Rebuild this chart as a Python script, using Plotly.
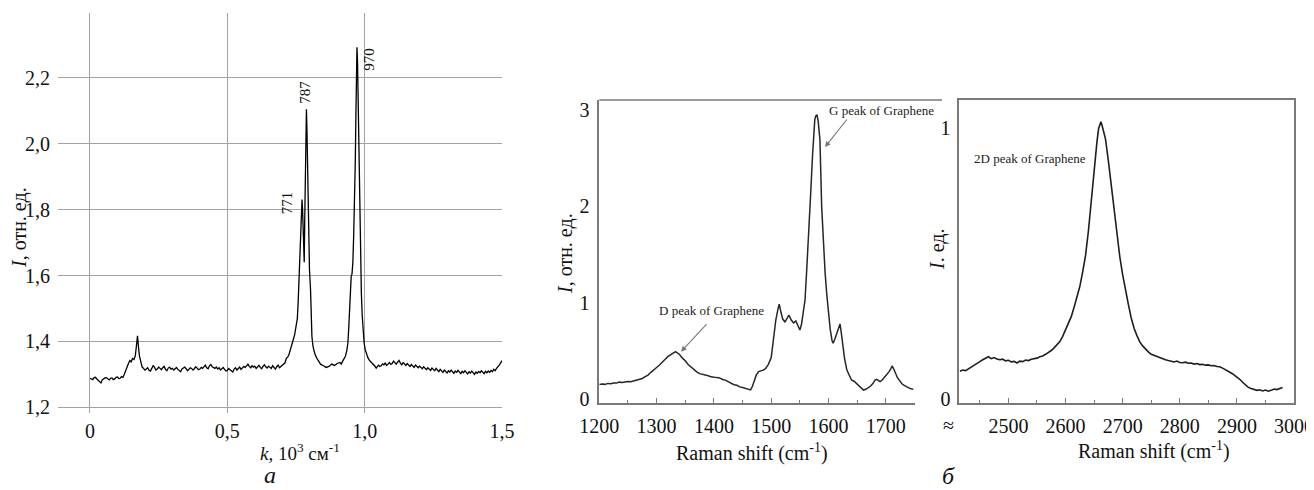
import plotly.graph_objects as go

# ---------------- data: panel a (k in 10^3 cm^-1, I in rel. units) ----------------
# baseline 0 ... 0.12, sampled every 0.005
kA = [round(0.005 * i, 3) for i in range(25)]
IA = [1.288,1.285,1.284,1.290,1.291,1.286,1.282,1.276,1.274,1.284,1.287,1.289,1.290,1.285,1.283,1.288,1.289,1.284,
      1.286,1.291,1.292,1.287,1.288,1.293,1.291]
# small band near 0.173
kP1 = [0.125,0.13,0.135,0.14,0.145,0.15,0.155,0.16,0.165,0.168,0.171,0.173,0.175,0.177,0.18,0.185,0.19,0.195,0.20]
IP1 = [1.300,1.312,1.325,1.333,1.342,1.338,1.348,1.345,1.356,1.372,1.400,1.417,1.405,1.380,1.356,1.336,1.322,1.318,1.313]
# baseline 0.205 ... 0.71, sampled every 0.005
kB = [round(0.205 + 0.005 * i, 3) for i in range(102)]
IB = [1.316,1.320,1.312,1.310,1.318,1.327,1.321,1.313,1.316,1.322,
      1.318,1.314,1.320,1.324,1.315,1.311,1.319,1.322,1.316,1.318,
      1.313,1.317,1.321,1.315,1.312,1.308,1.316,1.319,1.322,1.317,
      1.311,1.315,1.320,1.318,1.313,1.317,1.323,1.319,1.314,1.316,
      1.321,1.318,1.324,1.328,1.320,1.317,1.326,1.330,1.323,1.321,
      1.318,1.322,1.316,1.320,1.313,1.317,1.321,1.315,1.310,1.312,
      1.318,1.314,1.309,1.307,1.316,1.320,1.313,1.318,1.322,1.315,
      1.319,1.324,1.321,1.328,1.331,1.324,1.320,1.326,1.322,1.325,
      1.318,1.322,1.327,1.321,1.317,1.324,1.329,1.323,1.319,1.325,
      1.321,1.318,1.326,1.322,1.316,1.323,1.328,1.320,1.324,1.327,
      1.330,1.335]
# peaks 771, 787, 970
kP2 = [0.715,0.72,0.725,0.73,0.735,0.74,0.745,0.75,0.755,0.758,0.761,0.764,0.767,0.770,0.772,0.774,0.776,0.778,0.780,0.782,
       0.784,0.786,0.788,0.790,0.792,0.794,0.796,0.799,0.803,0.806,0.808,0.812,0.818,0.825,0.83,0.836,0.84,0.85,0.86,0.87,
       0.88,0.89,0.90,0.91,0.915,0.92,0.925,0.93,0.935,0.939,0.942,0.945,0.948,0.951,0.954,0.957,0.960,0.962,0.964,0.966,
       0.968,0.970,0.972,0.974,0.976,0.978,0.980,0.982,0.984,0.986,0.988,0.991,0.994,0.998,1.002,1.006,1.012,1.018,1.024,
       1.030,1.036,1.042]
IP2 = [1.349,1.352,1.362,1.374,1.392,1.405,1.420,1.440,1.470,1.520,1.580,1.628,1.700,1.770,1.831,1.800,1.760,1.730,1.640,1.780,
       1.933,2.040,2.105,2.040,1.960,1.850,1.709,1.620,1.557,1.470,1.415,1.385,1.364,1.350,1.342,1.334,1.330,1.326,1.321,1.324,
       1.331,1.327,1.333,1.336,1.331,1.340,1.346,1.355,1.372,1.395,1.440,1.486,1.560,1.598,1.605,1.640,1.720,1.780,1.831,1.950,
       2.080,2.200,2.293,2.250,2.140,2.000,1.900,1.831,1.700,1.620,1.547,1.480,1.425,1.395,1.375,1.364,1.350,1.342,1.337,
       1.334,1.326,1.319]
# baseline 1.05 ... 1.50, sampled every 0.005
kD = [round(1.05 + 0.005 * i, 3) for i in range(91)]
ID = [1.328,1.324,1.326,1.332,1.329,1.334,1.327,1.331,1.336,1.330,
      1.333,1.340,1.335,1.331,1.337,1.342,1.334,1.329,1.336,1.331,
      1.327,1.333,1.329,1.324,1.330,1.326,1.321,1.328,1.324,1.320,
      1.325,1.321,1.317,1.323,1.318,1.314,1.320,1.316,1.312,1.319,
      1.315,1.311,1.318,1.313,1.308,1.315,1.311,1.306,1.313,1.309,
      1.304,1.311,1.307,1.313,1.308,1.303,1.310,1.306,1.312,1.307,
      1.302,1.309,1.305,1.311,1.306,1.301,1.308,1.304,1.310,1.305,
      1.300,1.307,1.303,1.309,1.305,1.311,1.306,1.302,1.309,1.305,
      1.310,1.306,1.312,1.308,1.315,1.311,1.318,1.322,1.328,1.335,
      1.342]
k_a = kA + kP1 + kB + kP2 + kD
I_a = IA + IP1 + IB + IP2 + ID
assert len(k_a) == len(I_a)

k_ticks = [0, 0.5, 1.0, 1.5]
k_ticktext = ["0", "0,5", "1,0", "1,5"]
I_ticks = [1.2, 1.4, 1.6, 1.8, 2.0, 2.2]
I_ticktext = ["1,2", "1,4", "1,6", "1,8", "2,0", "2,2"]
peak_k = [0.72, 0.782, 1.018]
peak_I = [1.822, 2.157, 2.257]
peak_labels = ["771", "787", "970"]

# ---------------- data: panel b (left) ----------------
raman_1 = [1200,1205,1210,1215,1220,1225,1230,1235,1240,1245,1250,1255,1260,1265,1270,1275,1280,1285,1290,1295,
           1300,1305,1310,1315,1320,1325,1330,1333,1336,1340,1345,1350,1355,1360,1365,1370,1375,1380,1385,1390,
           1395,1400,1405,1410,1415,1420,1425,1430,1435,1440,1445,1450,1455,1460,1464,1467,1470,1474,1478,1482,
           1486,1490,1495,1500,1504,1508,1512,1514,1517,1520,1524,1528,1531,1535,1539,1543,1547,1550,1553,1556,
           1559,1562,1565,1569,1572,1576,1578,1580,1582,1585,1588,1591,1594,1597,1600,1603,1606,1608,1611,1614,
           1617,1620,1622,1625,1628,1632,1636,1640,1645,1649,1653,1657,1661,1665,1669,1673,1677,1681,1684,1687,
           1690,1694,1698,1702,1706,1709,1711,1714,1717,1720,1724,1728,1732,1736,1740,1744,1748]
int_1 = [0.150,0.156,0.152,0.162,0.158,0.167,0.165,0.175,0.171,0.178,0.182,0.179,0.186,0.192,0.205,0.213,0.232,0.248,0.277,0.298,
         0.327,0.353,0.387,0.412,0.442,0.463,0.486,0.492,0.480,0.462,0.424,0.397,0.358,0.332,0.298,0.282,0.263,0.257,0.246,0.242,
         0.230,0.229,0.222,0.219,0.203,0.196,0.178,0.166,0.148,0.142,0.126,0.119,0.108,0.101,0.094,0.130,0.190,0.250,0.285,0.290,
         0.300,0.315,0.360,0.430,0.620,0.820,0.940,0.985,0.900,0.830,0.800,0.840,0.870,0.820,0.790,0.810,0.760,0.716,0.780,0.900,
         1.030,1.350,1.650,2.150,2.520,2.900,2.940,2.950,2.880,2.690,2.000,1.600,1.310,1.080,0.890,0.720,0.610,0.580,0.620,0.680,
         0.740,0.780,0.700,0.540,0.420,0.300,0.240,0.197,0.182,0.161,0.142,0.113,0.093,0.101,0.114,0.132,0.158,0.196,0.204,0.188,
         0.181,0.199,0.226,0.249,0.286,0.318,0.343,0.308,0.262,0.224,0.191,0.158,0.141,0.124,0.116,0.107,0.100]
y1_ticks = [0, 1, 2, 3]
x1_ticks = [1200, 1300, 1400, 1500, 1600, 1700]

# ---------------- data: panel b (right) ----------------
raman_2 = [2415,2420,2425,2430,2435,2440,2445,2450,2455,2460,2465,2470,2475,2480,2485,2490,2495,2500,2505,2510,
           2515,2520,2525,2530,2535,2540,2545,2550,2555,2560,2565,2570,2575,2580,2585,2590,2595,2600,2605,2610,
           2615,2620,2625,2630,2635,2640,2645,2650,2655,2658,2660,2662,2664,2667,2670,2675,2680,2685,2690,2695,
           2700,2705,2710,2715,2720,2725,2730,2735,2740,2745,2750,2755,2760,2765,2770,2775,2780,2785,2790,2795,
           2800,2805,2810,2815,2820,2825,2830,2835,2840,2845,2850,2855,2860,2865,2870,2875,2880,2885,2890,2895,
           2900,2905,2910,2915,2920,2925,2930,2935,2940,2945,2950,2955,2960,2965,2970,2975,2980]
int_2 = [0.104,0.108,0.106,0.112,0.118,0.125,0.130,0.139,0.146,0.152,0.157,0.150,0.154,0.149,0.146,0.148,0.142,0.144,0.138,0.140,
         0.134,0.141,0.139,0.145,0.143,0.148,0.150,0.152,0.157,0.160,0.166,0.172,0.180,0.190,0.200,0.213,0.232,0.255,0.280,0.305,
         0.340,0.378,0.416,0.470,0.530,0.620,0.735,0.850,0.950,1.000,1.015,1.024,1.010,0.985,0.960,0.880,0.790,0.700,0.610,0.526,
         0.460,0.400,0.350,0.300,0.262,0.235,0.212,0.197,0.185,0.175,0.166,0.162,0.156,0.153,0.148,0.146,0.143,0.140,0.138,0.141,
         0.136,0.135,0.137,0.133,0.134,0.130,0.132,0.128,0.129,0.126,0.127,0.124,0.125,0.121,0.120,0.115,0.110,0.104,0.097,0.090,
         0.083,0.074,0.063,0.052,0.044,0.040,0.036,0.033,0.035,0.031,0.034,0.030,0.033,0.038,0.036,0.041,0.044]
y2_ticks = [0, 1]
x2_ticks = [2500, 2600, 2700, 2800, 2900, 3000]

# ---------------- layout helpers ----------------
# the page body has an 8px margin, so the figure is offset by 8px
OFF = 8
W, H = 1314 - OFF, 490 - OFF
def px(x): return (x - OFF) / W
def py(y): return 1 - (y - OFF) / H

FONT = "Liberation Serif"
GRID = "#a3a3a3"
AX = "#7a7a7a"

fig = go.Figure()
fig.add_trace(go.Scatter(x=k_a, y=I_a, mode="lines", line=dict(color="black", width=1.3),
                         xaxis="x", yaxis="y", showlegend=False))
fig.add_trace(go.Scatter(x=raman_1, y=int_1, mode="lines", line=dict(color="#262626", width=1.5),
                         xaxis="x2", yaxis="y2", showlegend=False))
fig.add_trace(go.Scatter(x=raman_2, y=int_2, mode="lines", line=dict(color="#1e1e1e", width=1.6),
                         xaxis="x3", yaxis="y3", showlegend=False))

tickfont = dict(family=FONT, size=20, color="#111")

fig.update_layout(
    width=W, height=H, margin=dict(l=0, r=0, t=0, b=0, pad=0, autoexpand=False),
    paper_bgcolor="white", plot_bgcolor="white",
    font=dict(family=FONT, color="#111"),
    xaxis=dict(domain=[px(58), px(502)], range=[-0.1164, 1.5], tickvals=k_ticks, ticktext=k_ticktext,
               showgrid=True, gridcolor=GRID, gridwidth=1, zeroline=False, showline=False, automargin=False,
               ticks="", tickfont=tickfont, ticklabelstandoff=4, anchor="y"),
    yaxis=dict(domain=[py(413), py(13)], range=[1.1826, 2.397], tickvals=I_ticks, ticktext=I_ticktext,
               showgrid=True, gridcolor=GRID, gridwidth=1, zeroline=False, showline=False, automargin=False,
               ticks="", tickfont=tickfont, ticklabelstandoff=7, anchor="x"),
    xaxis2=dict(domain=[px(599.3), px(914.5)], range=[1200, 1750], tickvals=x1_ticks,
                showgrid=False, zeroline=False, showline=True, linecolor=AX, linewidth=1.6, automargin=False,
                ticks="inside", ticklen=5, tickcolor=AX, tickwidth=1.2,
                minor=dict(dtick=50, tick0=1200, ticks="inside", ticklen=3, tickcolor=AX),
                tickfont=tickfont, ticklabelstandoff=4, anchor="y2"),
    yaxis2=dict(domain=[py(402.7), py(100)], range=[-0.0384, 3.104], tickvals=y1_ticks,
                showgrid=False, zeroline=False, showline=True, linecolor=AX, linewidth=1.6, automargin=False,
                ticks="", tickfont=tickfont, ticklabelstandoff=4, anchor="x2"),
    xaxis3=dict(domain=[px(959.3), px(1294)], range=[2414, 3000], tickvals=x2_ticks,
                showgrid=False, zeroline=False, showline=True, mirror=True, linecolor=AX, linewidth=1.6,
                automargin=False, ticks="inside", ticklen=5, tickcolor=AX, tickwidth=1.2,
                minor=dict(dtick=50, tick0=2450, ticks="inside", ticklen=3, tickcolor=AX),
                tickfont=tickfont, ticklabelstandoff=4, anchor="y3"),
    yaxis3=dict(domain=[py(402.7), py(100)], range=[-0.0125, 1.1044], tickvals=y2_ticks,
                showgrid=False, zeroline=False, showline=True, mirror=True, linecolor=AX, linewidth=1.6,
                automargin=False, ticks="", tickfont=tickfont, ticklabelstandoff=3, anchor="x3"),
)

# top border of left Raman panel (extends beyond its x axis, as in the original)
fig.add_shape(type="line", xref="paper", yref="paper", x0=px(599.3), x1=px(942), y0=py(100), y1=py(100),
              line=dict(color=AX, width=1.6))

C = dict(xanchor="center", yanchor="middle", showarrow=False)
ann = []
# peak labels in panel a
for xk, yi, t in zip(peak_k, peak_I, peak_labels):
    ann.append(dict(x=xk, y=yi, xref="x", yref="y", text=t, textangle=-90,
                    font=dict(family=FONT, size=15, color="#111"), **C))
# axis titles panel a
ann.append(dict(x=px(20), y=py(228), xref="paper", yref="paper", text="<i>I</i>, отн. ед.", textangle=-90,
                font=dict(family=FONT, size=20, color="#111"), **C))
ann.append(dict(x=px(300), y=py(452), xref="paper", yref="paper", text="<i>k</i>, 10<sup>3</sup> см<sup>-1</sup>",
                font=dict(family=FONT, size=19, color="#111"), **C))
ann.append(dict(x=px(270), y=py(475), xref="paper", yref="paper", text="<i>а</i>",
                font=dict(family=FONT, size=24, color="#111"), **C))
# panel b titles
ann.append(dict(x=px(566), y=py(254), xref="paper", yref="paper", text="<i>I</i>, отн. ед.", textangle=-90,
                font=dict(family=FONT, size=20, color="#111"), **C))
ann.append(dict(x=px(937), y=py(249), xref="paper", yref="paper", text="<i>I</i>. ед.", textangle=-90,
                font=dict(family=FONT, size=20, color="#111"), **C))
ann.append(dict(x=px(752), y=py(452), xref="paper", yref="paper", text="Raman shift (cm<sup>-1</sup>)",
                font=dict(family=FONT, size=20, color="#111"), **C))
ann.append(dict(x=px(1154), y=py(450), xref="paper", yref="paper", text="Raman shift (cm<sup>-1</sup>)",
                font=dict(family=FONT, size=20, color="#111"), **C))
ann.append(dict(x=px(948), y=py(425), xref="paper", yref="paper", text="≈",
                font=dict(family=FONT, size=20, color="#111"), **C))
ann.append(dict(x=px(948), y=py(476), xref="paper", yref="paper", text="<i>б</i>",
                font=dict(family=FONT, size=24, color="#111"), **C))
# peak annotations panel b
ann.append(dict(x=1396, y=0.917, xref="x2", yref="y2", text="D peak of Graphene",
                font=dict(family=FONT, size=13, color="#222"), **C))
ann.append(dict(x=1342.6, y=0.491, xref="x2", yref="y2", text="", showarrow=True, ax=27, ay=-29,
                arrowhead=2, arrowsize=1, arrowwidth=1.1, arrowcolor="#777"))
ann.append(dict(x=1691.6, y=3.0, xref="x2", yref="y2", text="G peak of Graphene",
                font=dict(family=FONT, size=13, color="#222"), **C))
ann.append(dict(x=1593.9, y=2.616, xref="x2", yref="y2", text="", showarrow=True, ax=23, ay=-29,
                arrowhead=2, arrowsize=1, arrowwidth=1.1, arrowcolor="#777"))
ann.append(dict(x=2537, y=0.89, xref="x3", yref="y3", text="2D peak of Graphene",
                font=dict(family=FONT, size=13, color="#222"), **C))
fig.update_layout(annotations=ann)

fig.write_html("out.html")
